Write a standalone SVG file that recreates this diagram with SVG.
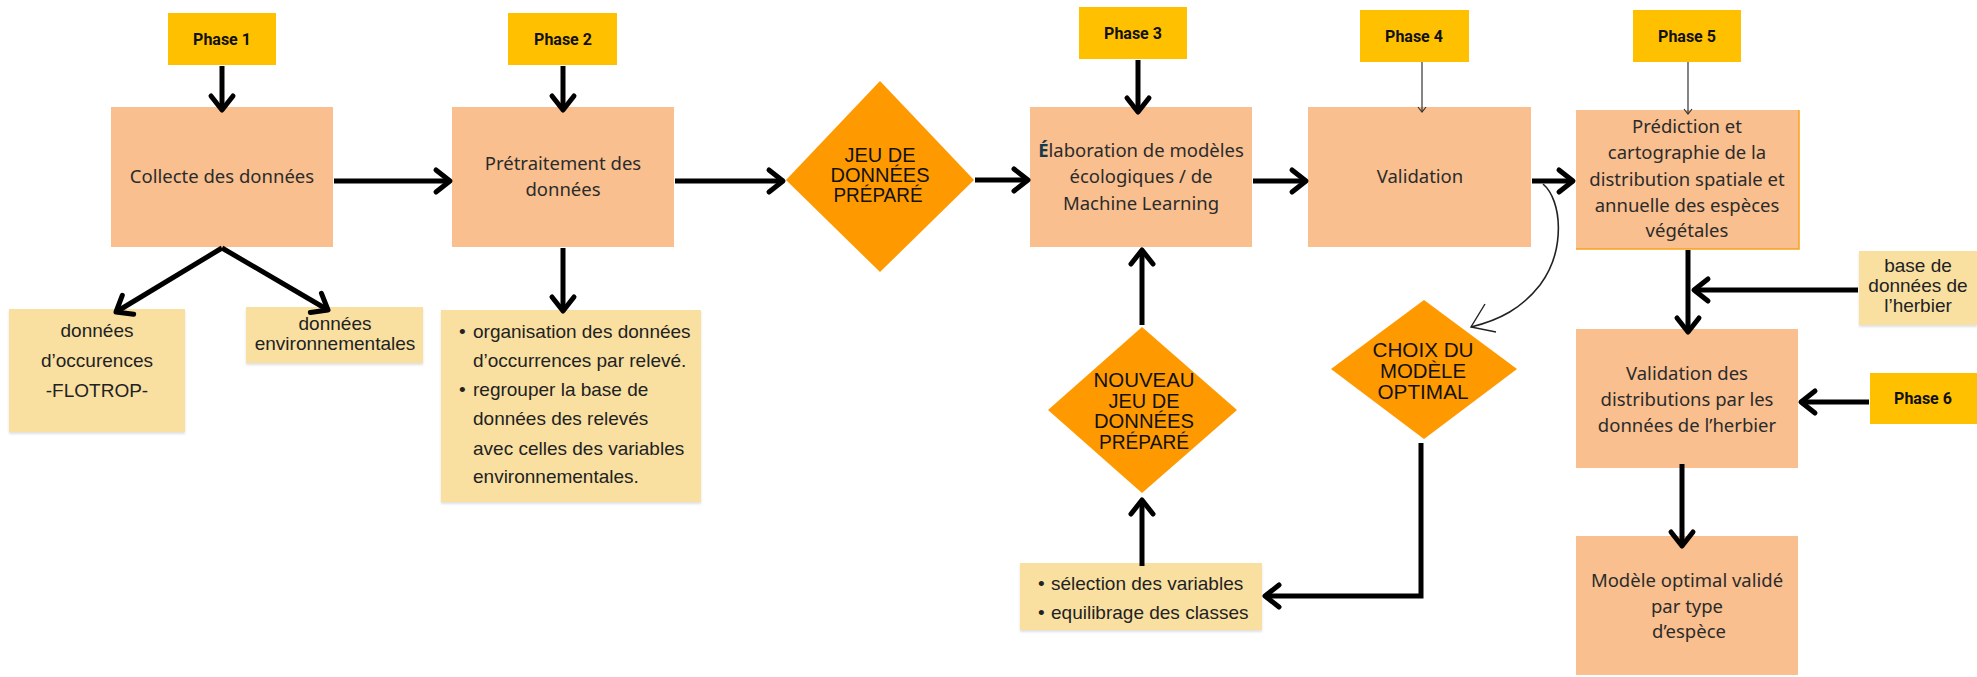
<svg xmlns="http://www.w3.org/2000/svg" width="1977" height="677" viewBox="0 0 1977 677">
  <defs>
    <style>
      .phase { fill: #FFC000; }
      .phase-t { font-family: Roboto, "Liberation Sans", sans-serif; font-weight: 700; font-size: 16px; fill: #111; text-anchor: middle; }
      .step { fill: #F9BF8F; }
      .step-t { font-family: "Noto Sans", "DejaVu Sans", sans-serif; font-size: 18.5px; fill: #2b2b2b; text-anchor: middle; }
      .dec { fill: #FF9900; }
      .dec-t { font-family: "Liberation Sans", Arial, sans-serif; font-size: 20px; fill: #111; text-anchor: middle; }
      .note { fill: #F9E0A1; filter: url(#soft); }
      .note-t { font-family: "Liberation Sans", Arial, sans-serif; font-size: 19px; fill: #222; }
      .mid { text-anchor: middle; }
      .link { fill: none; stroke: #000; stroke-width: 5; marker-end: url(#ah); }
      .link-thin { fill: none; stroke: #333; stroke-width: 1.2; marker-end: url(#ahThin); }
    </style>
    <filter id="soft" x="-5%" y="-5%" width="110%" height="120%">
      <feDropShadow dx="0" dy="2" stdDeviation="1.2" flood-color="#000" flood-opacity="0.12"/>
    </filter>
    <marker id="ah" markerUnits="userSpaceOnUse" viewBox="-20 -16 26 32" markerWidth="26" markerHeight="32" refX="0" refY="0" orient="auto" overflow="visible">
      <path d="M-14,-11 L0,0 L-14,11" fill="none" stroke="#000" stroke-width="5" stroke-linecap="round" stroke-linejoin="round"/>
    </marker>
    <marker id="ahThin" markerUnits="userSpaceOnUse" viewBox="-8 -6 10 12" markerWidth="10" markerHeight="12" refX="0" refY="0" orient="auto" overflow="visible">
      <path d="M-5,-4 L0,0 L-5,4" fill="none" stroke="#333" stroke-width="1.2"/>
    </marker>
  </defs>

  <rect width="1977" height="677" fill="#fff"/>

  <!-- phase labels -->
  <g id="phase1"><rect class="phase" x="168" y="13" width="108" height="52"/><text class="phase-t" x="222" y="45">Phase 1</text></g>
  <g id="phase2"><rect class="phase" x="508" y="13" width="109" height="52"/><text class="phase-t" x="563" y="45">Phase 2</text></g>
  <g id="phase3"><rect class="phase" x="1079" y="7" width="108" height="52"/><text class="phase-t" x="1133" y="39">Phase 3</text></g>
  <g id="phase4"><rect class="phase" x="1360" y="10" width="109" height="52"/><text class="phase-t" x="1414" y="42">Phase 4</text></g>
  <g id="phase5"><rect class="phase" x="1633" y="10" width="108" height="52"/><text class="phase-t" x="1687" y="42">Phase 5</text></g>
  <g id="phase6"><rect class="phase" x="1870" y="373" width="107" height="51"/><text class="phase-t" x="1923" y="404">Phase 6</text></g>

  <!-- process steps -->
  <g id="collecte">
    <rect class="step" x="111" y="107" width="222" height="140"/>
    <text class="step-t" x="222" y="183">Collecte des données</text>
  </g>
  <g id="pretraitement">
    <rect class="step" x="452" y="107" width="222" height="140"/>
    <text class="step-t" x="563" y="170">Prétraitement des</text>
    <text class="step-t" x="563" y="196">données</text>
  </g>
  <g id="elaboration">
    <rect class="step" x="1030" y="107" width="222" height="140"/>
    <text class="step-t" x="1141" y="157"><tspan fill="#173a4a" font-weight="700">É</tspan>laboration de modèles</text>
    <text class="step-t" x="1141" y="183">écologiques / de</text>
    <text class="step-t" x="1141" y="210">Machine Learning</text>
  </g>
  <g id="validation">
    <rect class="step" x="1308" y="107" width="223" height="140"/>
    <text class="step-t" x="1420" y="183">Validation</text>
  </g>
  <g id="prediction">
    <rect class="step" x="1576" y="110" width="223" height="139"/>
    <path d="M1799,110 V249 H1576" fill="none" stroke="#F7A21B" stroke-width="1.5"/>
    <text class="step-t" x="1687" y="133">Prédiction et</text>
    <text class="step-t" x="1687" y="159">cartographie de la</text>
    <text class="step-t" x="1687" y="186">distribution spatiale et</text>
    <text class="step-t" x="1687" y="212">annuelle des espèces</text>
    <text class="step-t" x="1687" y="237">végétales</text>
  </g>
  <g id="validation-herbier">
    <rect class="step" x="1576" y="329" width="222" height="139"/>
    <text class="step-t" x="1687" y="380">Validation des</text>
    <text class="step-t" x="1687" y="406">distributions par les</text>
    <text class="step-t" x="1687" y="432">données de l’herbier</text>
  </g>
  <g id="modele-final">
    <rect class="step" x="1576" y="536" width="222" height="139"/>
    <text class="step-t" x="1687" y="587">Modèle optimal validé</text>
    <text class="step-t" x="1687" y="613">par type</text>
    <text class="step-t" x="1689" y="638">d’espèce</text>
  </g>

  <!-- decisions -->
  <g id="jeu-donnees">
    <polygon class="dec" points="880,81 974,180 880,272 786,180"/>
    <text class="dec-t" x="880" y="162" textLength="71" lengthAdjust="spacingAndGlyphs">JEU DE</text>
    <text class="dec-t" x="880" y="182" textLength="99" lengthAdjust="spacingAndGlyphs">DONNÉES</text>
    <text class="dec-t" x="878" y="202" textLength="89" lengthAdjust="spacingAndGlyphs">PRÉPARÉ</text>
  </g>
  <g id="nouveau-jeu">
    <polygon class="dec" points="1142,327 1237,410 1142,493 1048,410"/>
    <text class="dec-t" x="1144" y="387" textLength="101" lengthAdjust="spacingAndGlyphs">NOUVEAU</text>
    <text class="dec-t" x="1144" y="408" textLength="71" lengthAdjust="spacingAndGlyphs">JEU DE</text>
    <text class="dec-t" x="1144" y="428" textLength="100" lengthAdjust="spacingAndGlyphs">DONNÉES</text>
    <text class="dec-t" x="1144" y="449" textLength="90" lengthAdjust="spacingAndGlyphs">PRÉPARÉ</text>
  </g>
  <g id="choix-modele">
    <polygon class="dec" points="1424,300 1517,369 1424,439 1331,369"/>
    <text class="dec-t" x="1423" y="357" textLength="101" lengthAdjust="spacingAndGlyphs">CHOIX DU</text>
    <text class="dec-t" x="1423" y="378" textLength="86" lengthAdjust="spacingAndGlyphs">MODÈLE</text>
    <text class="dec-t" x="1423" y="399" textLength="91" lengthAdjust="spacingAndGlyphs">OPTIMAL</text>
  </g>

  <!-- notes -->
  <g id="occurences">
    <rect class="note" x="9" y="309" width="176" height="123"/>
    <text class="note-t mid" x="97" y="337">données</text>
    <text class="note-t mid" x="97" y="367">d’occurences</text>
    <text class="note-t mid" x="97" y="397">-FLOTROP-</text>
  </g>
  <g id="environnement">
    <rect class="note" x="246" y="307" width="177" height="56"/>
    <text class="note-t mid" x="335" y="330">données</text>
    <text class="note-t mid" x="335" y="350">environnementales</text>
  </g>
  <g id="organisation">
    <rect class="note" x="441" y="310" width="260" height="192"/>
    <text class="note-t" x="459" y="338">•</text>
    <text class="note-t" x="473" y="338">organisation des données</text>
    <text class="note-t" x="473" y="367">d’occurrences par relevé.</text>
    <text class="note-t" x="459" y="396">•</text>
    <text class="note-t" x="473" y="396">regrouper la base de</text>
    <text class="note-t" x="473" y="425">données des relevés</text>
    <text class="note-t" x="473" y="455">avec celles des variables</text>
    <text class="note-t" x="473" y="483">environnementales.</text>
  </g>
  <g id="selection">
    <rect class="note" x="1020" y="563" width="242" height="67"/>
    <text class="note-t" x="1038" y="590">•</text>
    <text class="note-t" x="1051" y="590">sélection des variables</text>
    <text class="note-t" x="1038" y="619">•</text>
    <text class="note-t" x="1051" y="619">equilibrage des classes</text>
  </g>
  <g id="herbier">
    <rect class="note" x="1859" y="251" width="118" height="74"/>
    <text class="note-t mid" x="1918" y="272">base de</text>
    <text class="note-t mid" x="1918" y="292">données de</text>
    <text class="note-t mid" x="1918" y="312">l’herbier</text>
  </g>

  <!-- connectors, drawn over the boxes so the heads can overlap edges -->
  <g id="connectors">
    <path class="link" d="M222,66 V110"/>
    <path class="link" d="M563,66 V110"/>
    <path class="link" d="M1138,60 V112"/>
    <path class="link-thin" d="M1422,62 V112"/>
    <path class="link-thin" d="M1688,62 V114"/>
    <path class="link" d="M334,181 H450"/>
    <path class="link" d="M675,181 H783"/>
    <path class="link" d="M975,180 H1028"/>
    <path class="link" d="M1253,181 H1306"/>
    <path class="link" d="M1532,181 H1573"/>
    <path class="link" d="M222,248 L116,312"/>
    <path class="link" d="M222,248 L328,310"/>
    <path class="link" d="M563,248 V311"/>
    <path class="link" d="M1142,325 V250"/>
    <path class="link" d="M1142,566 V500"/>
    <path class="link" d="M1421,443 V596 H1265"/>
    <path d="M1543,184 C1562,200 1566,250 1540,285 C1522,308 1500,320 1471,327" fill="none" stroke="#222" stroke-width="1.6"/>
    <path d="M1485,304 L1471,327 L1496,332" fill="none" stroke="#222" stroke-width="1.4"/>
    <path class="link" d="M1688,250 V332"/>
    <path class="link" d="M1858,290 H1694"/>
    <path class="link" d="M1869,402 H1801"/>
    <path class="link" d="M1682,464 V546"/>
  </g>
</svg>
